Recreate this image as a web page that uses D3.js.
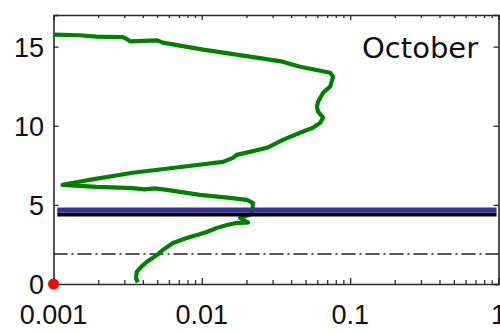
<!DOCTYPE html>
<html>
<head>
<meta charset="utf-8">
<script src="https://cdn.jsdelivr.net/npm/d3@7"></script>
<style>
  html, body { margin: 0; padding: 0; background: #fff; }
  svg { display: block; }
  .tick-label { font-family: "Liberation Sans", Arial, sans-serif; font-size: 27px; fill: #111; }
  .month { font-family: "DejaVu Sans", sans-serif; font-size: 29px; fill: #111; }
</style>
</head>
<body>
<svg id="chart" width="500" height="333"></svg>
<script>
// Profile: height (km) and value, bottom to top
const profileHeight = [
  0.10, 0.35, 0.76, 1.08, 1.39, 1.84, 2.15, 2.59, 2.91, 3.10, 3.29, 3.54, 3.73, 3.86,
  3.88, 4.05, 4.18, 4.37, 4.70, 5.13, 5.32, 5.44, 5.63, 5.95, 6.04, 5.98, 6.06, 6.08,
  6.14, 6.27, 6.58, 7.03, 7.41, 7.72, 7.97, 8.16, 8.35, 8.61, 9.11, 9.56, 9.87, 10.20,
  10.51, 10.89, 11.20, 11.52, 12.09, 12.47, 13.10, 13.35, 13.73, 14.05, 14.37, 14.81,
  15.25, 15.40, 15.33, 15.50, 15.60, 15.63, 15.72, 15.76
];
const profileValue = [
  0.0037, 0.0036, 0.00364, 0.0039, 0.00425, 0.0050, 0.00545, 0.0064, 0.0079, 0.0093, 0.0108, 0.0126, 0.0148, 0.0172,
  0.0205, 0.0190, 0.0181, 0.0211, 0.0220, 0.0221, 0.0201, 0.0155, 0.0097, 0.0058, 0.0048, 0.0041, 0.0034, 0.0031,
  0.00195, 0.00115, 0.00175, 0.00342, 0.00744, 0.0139, 0.0162, 0.0172, 0.0211, 0.0275, 0.0352, 0.0459, 0.0562, 0.0630,
  0.0657, 0.0608, 0.0597, 0.0608, 0.0657, 0.0733, 0.0767, 0.0733, 0.0459, 0.0350, 0.0211, 0.0102,
  0.00545, 0.0050, 0.0033, 0.0031, 0.00293, 0.00195, 0.0015, 0.00100
];

// Horizontal reference levels (km) and their x extent
const layerTopHeight = [4.68];
const layerBaseHeight = [4.40];
const layerExtent = [0.00106, 0.97];
const boundaryHeight = [1.90];
const surfacePoint = [0.001, 0];

// Axes
const xDomain = [0.001, 1];
const yDomain = [0, 17];
const xMajorTicks = [0.001, 0.01, 0.1, 1];
const xTickLabels = ["0.001", "0.01", "0.1", "1"];
const yTicks = [0, 5, 10, 15];
const yTickLabels = ["0", "5", "10", "15"];
const monthLabel = "October";

const svg = d3.select("#chart");
const plotLeft = 53.5, plotRight = 498.5, plotTop = 15, plotBottom = 284;

const x = d3.scaleLog().domain(xDomain).range([plotLeft, plotRight]);
const y = d3.scaleLinear().domain(yDomain).range([plotBottom, plotTop]);

// all decade sub-ticks 1..9
const xAllTicks = x.ticks(9);
const isMajor = v => xMajorTicks.some(m => Math.abs(Math.log10(v) - Math.log10(m)) < 1e-6);

const axisColor = "#2a2a2a";

// Bottom axis (ticks pointing inward)
const gB = svg.append("g").attr("transform", `translate(0,${plotBottom})`)
  .call(d3.axisBottom(x).tickValues(xAllTicks).tickSize(-6).tickFormat(""));
gB.selectAll(".tick line").attr("y2", d => isMajor(d) ? -6 : -4);

// Top axis
const gT = svg.append("g").attr("transform", `translate(0,${plotTop})`)
  .call(d3.axisTop(x).tickValues(xAllTicks).tickSize(-5).tickFormat(""));
gT.selectAll(".tick line").attr("y2", d => isMajor(d) ? 5 : 3);

// Left and right axes
const gL = svg.append("g").attr("transform", `translate(${plotLeft},0)`)
  .call(d3.axisLeft(y).tickValues(yTicks).tickSize(-5).tickFormat(""));
const gR = svg.append("g").attr("transform", `translate(${plotRight},0)`)
  .call(d3.axisRight(y).tickValues(yTicks).tickSize(-5).tickFormat(""));

[gB, gT, gL, gR].forEach(g => {
  g.selectAll(".domain").attr("stroke", axisColor).attr("stroke-width", 1.6);
  g.selectAll(".tick line").attr("stroke", axisColor).attr("stroke-width", 1.3);
});

// Tick labels
svg.append("g").selectAll("text").data(xMajorTicks).join("text")
  .attr("class", "tick-label")
  .attr("x", d => x(d))
  .attr("y", 324)
  .attr("text-anchor", "middle")
  .text((d, i) => xTickLabels[i]);

svg.append("g").selectAll("text").data(yTicks).join("text")
  .attr("class", "tick-label")
  .attr("x", 44)
  .attr("y", d => y(d) + 10)
  .attr("text-anchor", "end")
  .text((d, i) => yTickLabels[i]);

// Boundary level (dash-dot)
svg.append("line")
  .attr("x1", x(xDomain[0])).attr("x2", x(xDomain[1]))
  .attr("y1", y(boundaryHeight[0])).attr("y2", y(boundaryHeight[0]))
  .attr("stroke", "#222").attr("stroke-width", 1.4)
  .attr("stroke-dasharray", "14,4,2,4");

// Profile
const profile = profileHeight.map((h, i) => ({ h, v: profileValue[i] }));
svg.append("path")
  .datum(profile)
  .attr("fill", "none")
  .attr("stroke", "#008000")
  .attr("stroke-width", 4.2)
  .attr("stroke-linejoin", "round")
  .attr("d", d3.line().x(d => x(d.v)).y(d => y(d.h)));

// Layer base (black) and top (blue)
svg.append("line")
  .attr("x1", x(layerExtent[0])).attr("x2", x(layerExtent[1]))
  .attr("y1", y(layerBaseHeight[0])).attr("y2", y(layerBaseHeight[0]))
  .attr("stroke", "#000").attr("stroke-width", 4);
svg.append("line")
  .attr("x1", x(layerExtent[0])).attr("x2", x(layerExtent[1]))
  .attr("y1", y(layerTopHeight[0])).attr("y2", y(layerTopHeight[0]))
  .attr("stroke", "#333399").attr("stroke-width", 5);

// Surface marker
svg.append("circle")
  .attr("cx", x(surfacePoint[0])).attr("cy", y(surfacePoint[1]))
  .attr("r", 5.5).attr("fill", "#ff0000");

// Month label
svg.append("text")
  .attr("class", "month")
  .attr("x", 362).attr("y", 58)
  .text(monthLabel);
</script>
</body>
</html>
